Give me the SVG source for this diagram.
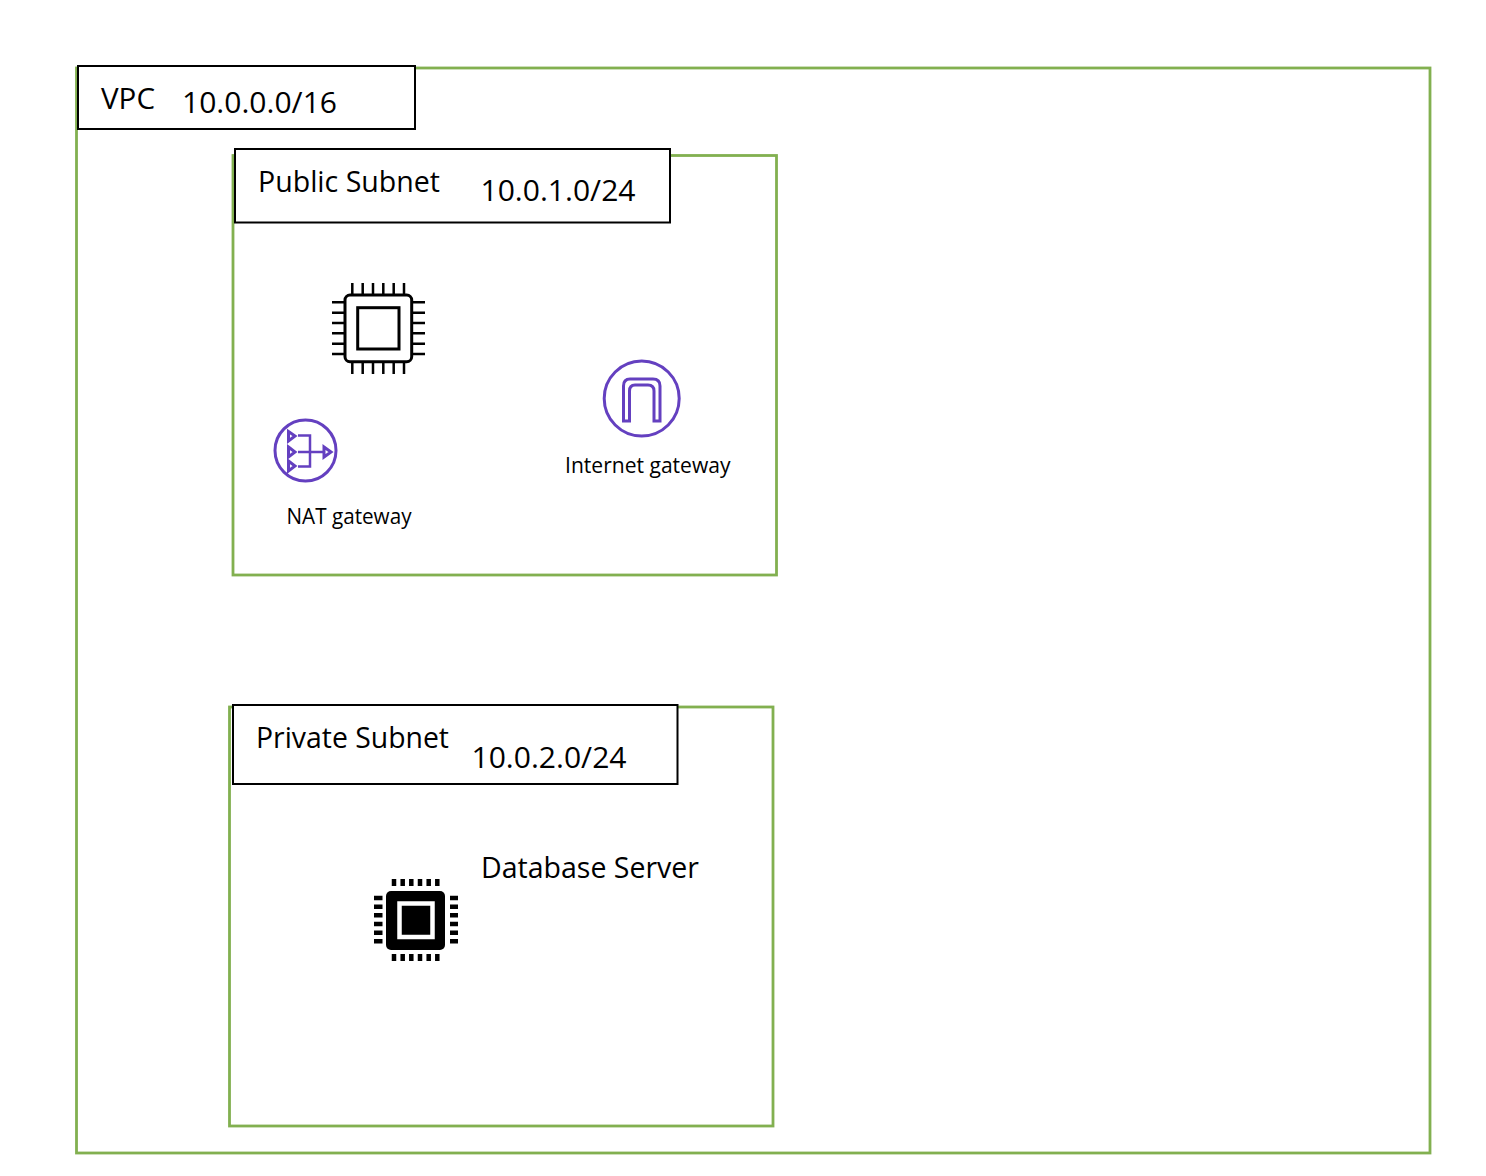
<svg xmlns="http://www.w3.org/2000/svg" width="1486" height="1176" viewBox="0 0 1486 1176">
<style>
.zone{fill:none;stroke:#82b050;stroke-width:2.800}
.label{fill:#fff;stroke:#000;stroke-width:2}
text{font-family:"Open Sans","Noto Sans","Liberation Sans",sans-serif;fill:#000}
.big{font-size:29px}
.small{font-size:21px}
.line{fill:none;stroke:#000;stroke-width:3}
.pins{fill:none;stroke:#000;stroke-width:2.500}
.purple{fill:none;stroke:#6440c0;stroke-width:3}
.purple-thin{fill:none;stroke:#6440c0;stroke-width:2.500}
</style>
<rect width="1486" height="1176" fill="#fff"/>
<g id="vpc">
<rect class="zone" x="76.500" y="68" width="1353.500" height="1085"/>
<rect class="label" x="78" y="66" width="337" height="63"/>
<text class="big" x="101" y="109" textLength="54" lengthAdjust="spacingAndGlyphs">VPC</text>
<text class="big" x="182" y="113" textLength="155" lengthAdjust="spacingAndGlyphs">10.0.0.0/16</text>
</g>
<g id="public-subnet">
<rect class="zone" x="233" y="155.500" width="543.500" height="419.500"/>
<rect class="label" x="235" y="149" width="435" height="73.500"/>
<text class="big" x="258" y="192" textLength="182" lengthAdjust="spacingAndGlyphs">Public Subnet</text>
<text class="big" x="480.500" y="201" textLength="155" lengthAdjust="spacingAndGlyphs">10.0.1.0/24</text>
</g>
<g id="private-subnet">
<rect class="zone" x="229.500" y="707" width="543.500" height="419"/>
<rect class="label" x="233" y="705" width="444.500" height="79"/>
<text class="big" x="256" y="748" textLength="193" lengthAdjust="spacingAndGlyphs">Private Subnet</text>
<text class="big" x="471.500" y="768" textLength="155" lengthAdjust="spacingAndGlyphs">10.0.2.0/24</text>
<text class="big" x="481" y="878" textLength="218" lengthAdjust="spacingAndGlyphs">Database Server</text>
</g>
<g id="instance">
<rect class="line" x="345" y="295" width="66.700" height="66.700" rx="5"/>
<rect class="line" x="357.700" y="307.700" width="41.300" height="41.300"/>
<path class="pins" d="M352.300 283V295M362.700 283V295M373 283V295M383.300 283V295M393.700 283V295M404 283V295M352.300 362V374M362.700 362V374M373 362V374M383.300 362V374M393.700 362V374M404 362V374M332 302.300H345M332 312.700H345M332 323H345M332 333.300H345M332 343.700H345M332 354H345M412 302.300H425M412 312.700H425M412 323H425M412 333.300H425M412 343.700H425M412 354H425"/>
</g>
<g id="nat-gateway">
<circle class="purple" cx="305.500" cy="450.500" r="30.500"/>
<path class="purple" d="M288.500 431.500L295 436L288.500 441ZM288.500 447L295 452L288.500 457ZM288.500 461L295 466L288.500 471Z"/>
<path class="purple-thin" d="M298 435.500H310V466.500H298M298 452H323"/>
<path class="purple" d="M324 447L331 452L324 457Z"/>
<text class="small" x="286.500" y="524" textLength="125" lengthAdjust="spacingAndGlyphs">NAT gateway</text>
</g>
<g id="internet-gateway">
<circle class="purple" cx="641.700" cy="398.500" r="37.500"/>
<path class="purple" d="M623.500 421V386Q623.500 379 630 379H653Q660 379 660 386V421H654V391Q654 385 648 385H635Q629.500 385 629.500 391V421Z"/>
<text class="small" x="565" y="473" textLength="165.500" lengthAdjust="spacingAndGlyphs">Internet gateway</text>
</g>
<g id="database-server">
<rect x="386" y="891" width="59" height="59" rx="5" fill="#000"/>
<rect x="399.500" y="903.500" width="33" height="33.500" fill="none" stroke="#fff" stroke-width="4.500"/>
<path fill="none" stroke="#000" stroke-width="4.500" d="M394 879V886M402.700 879V886M411.300 879V886M420 879V886M428.700 879V886M437.300 879V886M394 954V961M402.700 954V961M411.300 954V961M420 954V961M428.700 954V961M437.300 954V961M374 898H382.500M374 906.700H382.500M374 915.300H382.500M374 924H382.500M374 932.700H382.500M374 941.300H382.500M450 898H458M450 906.700H458M450 915.300H458M450 924H458M450 932.700H458M450 941.300H458"/>
</g>
<g id="connectors"/>
</svg>
